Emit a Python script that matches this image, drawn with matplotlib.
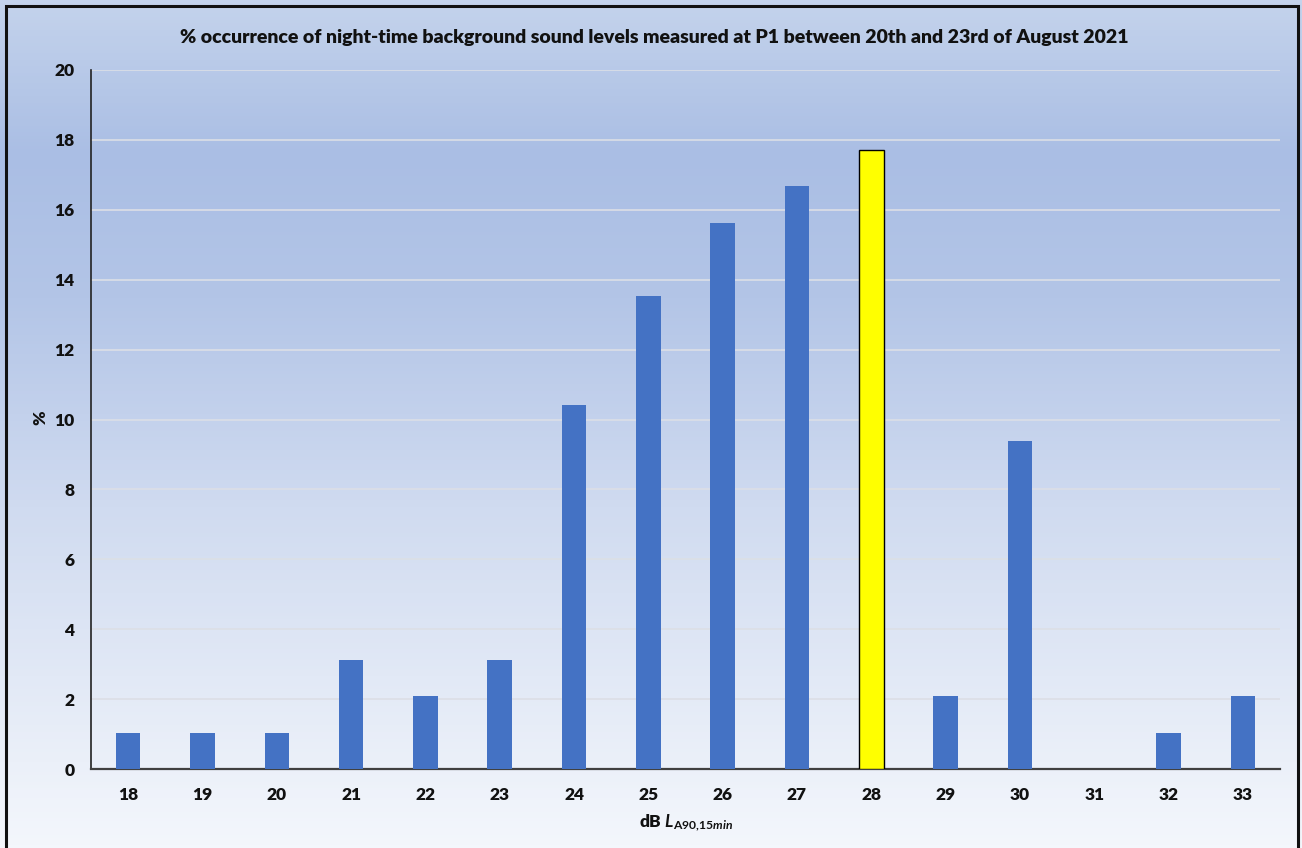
import numpy as np
import matplotlib
matplotlib.use("Agg")
import matplotlib.pyplot as plt
from matplotlib.colors import LinearSegmentedColormap
from matplotlib.patches import Rectangle

categories = ["18", "19", "20", "21", "22", "23", "24", "25", "26", "27", "28", "29", "30", "31", "32", "33"]
values = [1.04, 1.04, 1.04, 3.13, 2.08, 3.13, 10.42, 13.54, 15.63, 16.67, 17.71, 2.08, 9.38, 0.0, 1.04, 2.08]
highlight = "28"
yticks = [0, 2, 4, 6, 8, 10, 12, 14, 16, 18, 20]
title = "% occurrence of night-time background sound levels measured at P1 between 20th and 23rd of August 2021"

plt.rcParams['font.family'] = ['Lato', 'DejaVu Sans']
plt.rcParams['mathtext.fontset'] = 'custom'
plt.rcParams['mathtext.rm'] = 'Lato:bold'
plt.rcParams['mathtext.bf'] = 'Lato:bold'
plt.rcParams['mathtext.it'] = 'Lato:bold:italic'

W, H = 1302, 848
fig = plt.figure(figsize=(W / 100, H / 100), dpi=100)

# background gradient
bg = fig.add_axes([0, 0, 1, 1], zorder=-10)
cmap = LinearSegmentedColormap.from_list(
    "bg", [(0.0, "#c4d3ec"), (0.18, "#aabee4"), (0.35, "#b3c5e7"),
           (0.6, "#d0dbf0"), (1.0, "#f4f7fc")])
grad = np.linspace(0, 1, 256).reshape(-1, 1)
bg.imshow(grad, aspect="auto", cmap=cmap, extent=[0, 1, 0, 1], origin="upper")
bg.set_xlim(0, 1)
bg.set_ylim(0, 1)
bg.axis("off")
# frame border
bg.add_patch(Rectangle((6 / W, -0.05), 1292 / W, (H - 6) / H + 0.05,
                       fill=False, edgecolor="#111111", linewidth=2.2,
                       transform=bg.transAxes, clip_on=False))

ax = fig.add_axes([91 / W, (H - 769) / H, (1280 - 91) / W, (769 - 70) / H])
ax.patch.set_alpha(0)
x = np.arange(len(categories))
colors = ["#ffff00" if c == highlight else "#4472c4" for c in categories]
edges = ["#000000" if c == highlight else "none" for c in categories]
lws = [1.0 if c == highlight else 0 for c in categories]
ax.bar(x, values, width=0.33, color=colors, edgecolor=edges, linewidth=lws, zorder=3)

ax.set_xlim(-0.5, len(categories) - 0.5)
ax.set_ylim(0, 20)
ax.set_yticks(yticks)
ax.set_yticklabels([str(t) for t in yticks], fontsize=12.5, fontweight="heavy", color="#111111")
ax.set_xticks(x)
ax.set_xticklabels(categories, fontsize=12.5, fontweight="heavy", color="#111111")
ax.tick_params(axis="y", length=0, pad=12)
ax.tick_params(axis="x", length=0, pad=13)
ax.grid(axis="y", color="#dcdfe6", linewidth=1.2, zorder=0)
for s in ["top", "right"]:
    ax.spines[s].set_visible(False)
ax.spines["left"].set_color("#222222")
ax.spines["bottom"].set_color("#404040")
ax.spines["left"].set_linewidth(1.2)
ax.spines["bottom"].set_linewidth(1.6)

fig.text(654 / W, 1 - 37 / H, title, ha="center", va="center",
         fontsize=14, fontweight="heavy", color="#111111")
fig.text(40 / W, 1 - 418 / H, "%", ha="center", va="center", rotation=90,
         fontsize=12.5, fontweight="heavy", color="#111111")
fig.text(686 / W, 1 - 823 / H, r"dB $\mathit{L}_{\mathrm{A90{,}}\mathit{15min}}$",
         ha="center", va="center", fontsize=12.5, color="#111111", fontweight="heavy")

fig.savefig("out.png", dpi=100)
